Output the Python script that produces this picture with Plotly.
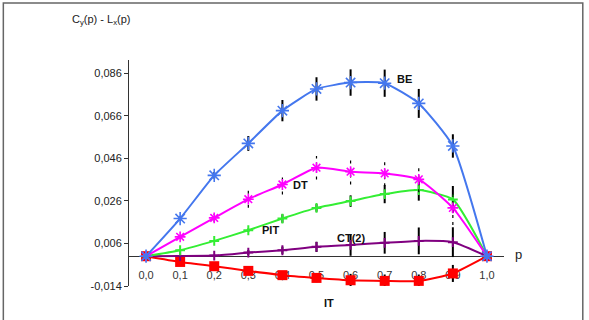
import plotly.graph_objects as go

p = [0.0, 0.1, 0.2, 0.3, 0.4, 0.5, 0.6, 0.7, 0.8, 0.9, 1.0]

be = [0.0, 0.0177, 0.0380, 0.0530, 0.0684, 0.0786, 0.0816, 0.0813, 0.0718, 0.0518, 0.0]
be_err = [0, 0.001, 0.0015, 0.0035, 0.005, 0.0055, 0.0062, 0.0064, 0.0068, 0.0055, 0]

dt = [0.0, 0.0091, 0.0180, 0.0268, 0.0337, 0.0416, 0.0397, 0.0389, 0.0361, 0.0227, 0.0]
dt_err = [0, 0, 0.002, 0.004, 0.0047, 0.0055, 0.006, 0.006, 0.006, 0.008, 0]

pit = [0.0, 0.0028, 0.0072, 0.0122, 0.0177, 0.0227, 0.0259, 0.0292, 0.0311, 0.0267, 0.0]
pit_err = [0, 0, 0, 0.0008, 0.002, 0.0018, 0.0027, 0.0043, 0.005, 0.0063, 0]

ct2 = [0.0, 0.0001, 0.0003, 0.0017, 0.0028, 0.0044, 0.0053, 0.0063, 0.0072, 0.0066, 0.0]
ct2_err = [0, 0, 0, 0.0012, 0.0017, 0.0024, 0.0051, 0.0051, 0.0063, 0.007, 0]

it = [0.0, -0.0027, -0.0047, -0.0069, -0.0089, -0.0102, -0.0113, -0.0116, -0.0116, -0.0081, 0.0]
it_err = [0, 0, 0, 0, 0, 0.002, 0.003, 0.003, 0.003, 0.004, 0]

y_ticks = [-0.014, 0.006, 0.026, 0.046, 0.066, 0.086]
y_ticktext = ["-0,014", "0,006", "0,026", "0,046", "0,066", "0,086"]
x_ticktext = ["0,0", "0,1", "0,2", "0,3", "0,4", "0,5", "0,6", "0,7", "0,8", "0,9", "1,0"]
y_range = [-0.014, 0.0922]
x_range = [-0.05, 1.05]

series_labels = ["BE", "DT", "PIT", "CT(2)", "IT"]

FONT = "Liberation Sans, Arial, sans-serif"

fig = go.Figure()

def err_segments(xs, ys, es):
    sx, sy = [], []
    for x, y, e in zip(xs, ys, es):
        if e > 0:
            sx += [x, x, None]
            sy += [y - e, y + e, None]
    return sx, sy

def solid_err(es):
    return dict(type="data", array=es, visible=True, color="black", thickness=2, width=0)

def to_px(x, y):
    return ((x - x_range[0]) / (x_range[1] - x_range[0]), (y - y_range[0]) / (y_range[1] - y_range[0]))

# IT
fig.add_trace(go.Scatter(x=p, y=it, mode="lines+markers", line=dict(color="#ff0000", width=2, shape="spline", smoothing=0.5),
                         marker=dict(symbol="square", size=10, color="#ff0000"), error_y=solid_err(it_err), cliponaxis=False))
# CT(2)
fig.add_trace(go.Scatter(x=p, y=ct2, mode="lines+markers", line=dict(color="#800080", width=2, shape="spline", smoothing=0.5),
                         marker=dict(symbol="cross-thin-open", size=7, line=dict(color="#800080", width=2)), error_y=solid_err(ct2_err)))
# PIT
fig.add_trace(go.Scatter(x=p, y=pit, mode="lines+markers", line=dict(color="#33ee33", width=2, shape="spline", smoothing=0.5),
                         marker=dict(symbol="cross-thin-open", size=7, line=dict(color="#33ee33", width=2)), error_y=solid_err(pit_err)))
# DT dashed error bars
sx, sy = err_segments(p, dt, dt_err)
fig.add_trace(go.Scatter(x=sx, y=sy, mode="lines", line=dict(color="black", width=1.2, dash="3px,4px"), hoverinfo="skip"))
# DT
fig.add_trace(go.Scatter(x=p, y=dt, mode="lines+markers", line=dict(color="#ff00ff", width=2, shape="spline", smoothing=0.5),
                         marker=dict(symbol="asterisk-open", size=9, line=dict(color="#ff00ff", width=1.6))))
# BE
fig.add_trace(go.Scatter(x=p, y=be, mode="lines+markers", line=dict(color="#4477ee", width=2, shape="spline", smoothing=0.5),
                         marker=dict(symbol="asterisk-open", size=11, line=dict(color="#4477ee", width=1.6)), error_y=solid_err(be_err)))

pos0 = (0 - y_range[0]) / (y_range[1] - y_range[0])

fig.update_layout(
    width=589, height=320,
    margin=dict(l=129, r=85, t=60, b=34),
    paper_bgcolor="white", plot_bgcolor="white",
    showlegend=False,
    font=dict(family=FONT, size=11, color="#222"),
    xaxis=dict(range=x_range, tickvals=p, ticktext=x_ticktext, showgrid=False, zeroline=False,
               showline=True, linecolor="#333", linewidth=1, ticks="", anchor="free", position=pos0,
               ticklabelstandoff=9, tickfont=dict(size=11, color="#333"), layer="below traces"),
    yaxis=dict(range=y_range, tickvals=y_ticks, ticktext=y_ticktext, showgrid=False, zeroline=False,
               showline=True, linecolor="#333", linewidth=1, ticks="outside", ticklen=4, tickcolor="#333",
               tickfont=dict(size=11, color="#222")),
)

annots = [
    (0.73, 0.0835, series_labels[0]),
    (0.425, 0.0335, series_labels[1]),
    (0.335, 0.0122, series_labels[2]),
    (0.555, 0.0085, series_labels[3]),
    (0.515, -0.022, series_labels[4]),
]
for x, y, t in annots:
    px, py = to_px(x, y)
    fig.add_annotation(x=px, y=py, xref="paper", yref="paper", text="<b>" + t + "</b>", showarrow=False,
                       xanchor="left", yanchor="middle", font=dict(family=FONT, size=11, color="#111"))

fig.add_annotation(x=1.025, y=pos0, xref="paper", yref="paper", text="p", showarrow=False,
                   xanchor="left", yanchor="bottom", yshift=-8, font=dict(family=FONT, size=13, color="#222"))
fig.add_annotation(x=(70 - 129) / 376, y=(286 - 20) / 226, xref="paper", yref="paper",
                   text="C<sub>y</sub>(p) - L<sub>x</sub>(p)", showarrow=False, xanchor="left", yanchor="middle",
                   font=dict(family=FONT, size=11, color="#222"))

fig.add_shape(type="rect", xref="paper", yref="paper", x0=(3 - 129) / 376, x1=(584 - 129) / 376,
              y0=(286 - 325) / 226, y1=(286 - 3) / 226, line=dict(color="#666", width=1.5))

fig.write_html("out.html")
